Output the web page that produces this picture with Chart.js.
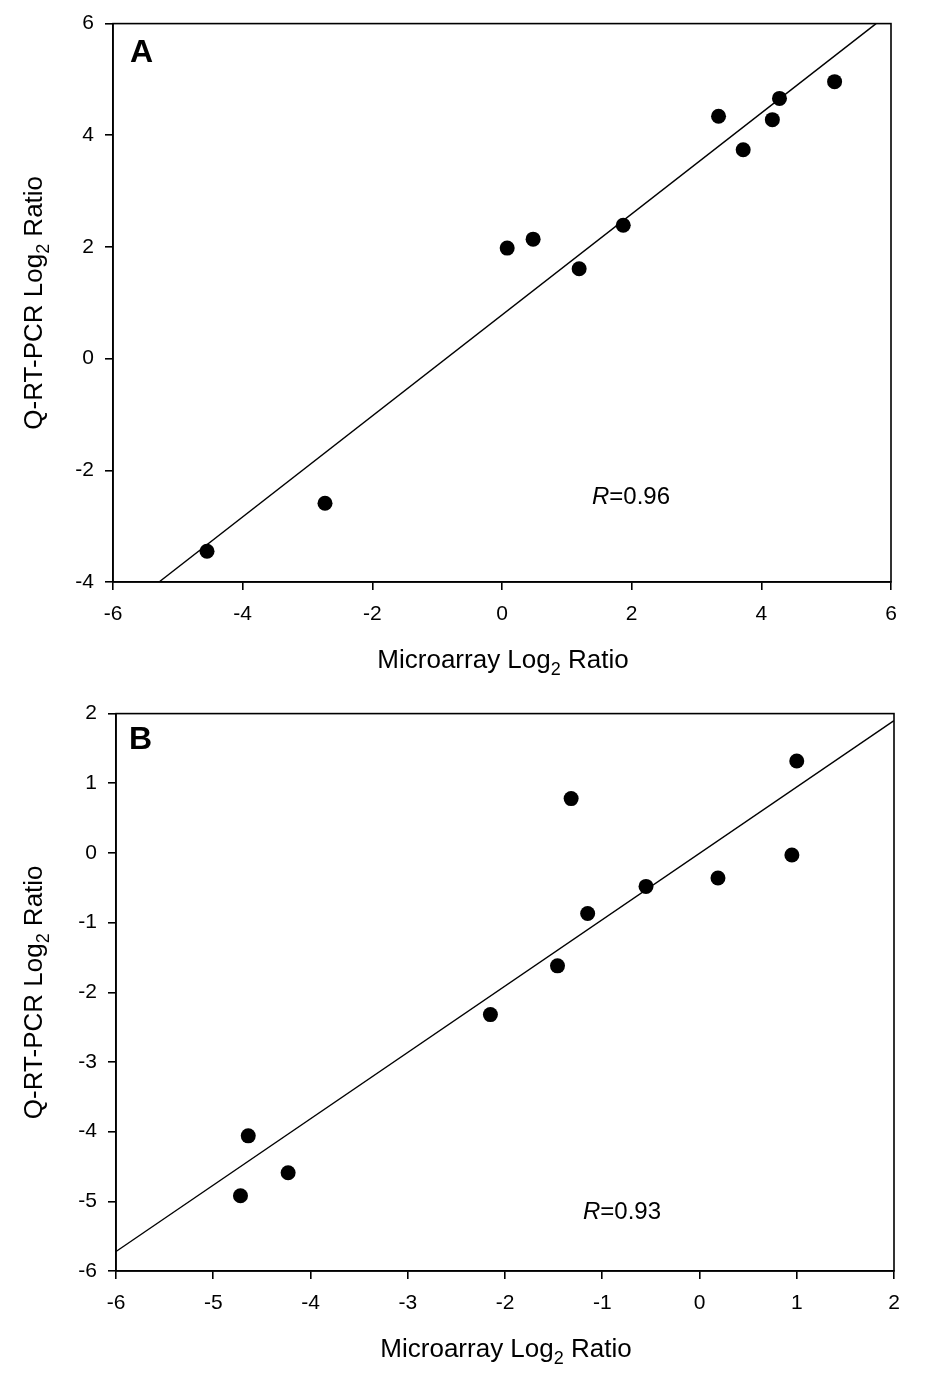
<!DOCTYPE html>
<html>
<head>
<meta charset="utf-8">
<script src="https://cdn.jsdelivr.net/npm/chart.js@4.4.0/dist/chart.umd.min.js"></script>
<style>
  html, body { margin: 0; padding: 0; background: #fff; }
  .panel { position: absolute; left: 0; }
</style>
</head>
<body>
<div class="panel" style="top:0"><canvas id="chartA" width="950" height="690"></canvas></div>
<div class="panel" style="top:690px"><canvas id="chartB" width="950" height="695"></canvas></div>
<script>
// Panel A
var aMicro = [-4.55, -2.73, 0.08, 0.48, 1.19, 1.87, 3.34, 3.72, 4.17, 4.28, 5.13];
var aQpcr  = [-3.45, -2.59, 1.98, 2.14, 1.61, 2.39, 4.34, 3.74, 4.28, 4.66, 4.96];
var aFitX = [-5.29, 5.77];
var aFitY = [-4, 6];
var aXTicks = [-6, -4, -2, 0, 2, 4, 6];
var aYTicks = [-4, -2, 0, 2, 4, 6];

// Panel B
var bMicro = [-4.72, -4.64, -4.23, -2.15, -1.46, -1.32, -1.15, -0.55, 0.19, 0.95, 1.0];
var bQpcr  = [-4.92, -4.06, -4.59, -2.32, -1.62, 0.78, -0.87, -0.48, -0.36, -0.03, 1.32];
var bFitX = [-6, 2];
var bFitY = [-5.72, 1.9];
var bXTicks = [-6, -5, -4, -3, -2, -1, 0, 1, 2];
var bYTicks = [-6, -5, -4, -3, -2, -1, 0, 1, 2];

var FONT = '"Liberation Sans", Arial, sans-serif';

function toPoints(xs, ys) {
    return xs.map(function (x, i) { return { x: x, y: ys[i] }; });
}

// draws "Log" + subscript 2, centred on (0,0)
function drawSubTitle(ctx, before, after) {
    var big = '26px ' + FONT, small = '18px ' + FONT;
    ctx.font = big;
    var w1 = ctx.measureText(before).width;
    var w3 = ctx.measureText(after).width;
    ctx.font = small;
    var w2 = ctx.measureText('2').width;
    var x = -(w1 + w2 + w3) / 2;
    ctx.textAlign = 'left';
    ctx.textBaseline = 'alphabetic';
    ctx.font = big;
    ctx.fillText(before, x, 0);
    ctx.font = small;
    ctx.fillText('2', x + w1, 7);
    ctx.font = big;
    ctx.fillText(after, x + w1 + w2, 0);
}

var decor = {
    id: 'decor',
    afterDraw: function (chart, args, opts) {
        var ctx = chart.ctx, a = chart.chartArea;
        ctx.save();
        ctx.strokeStyle = '#000';
        ctx.lineWidth = 1.6;
        ctx.strokeRect(a.left, a.top, a.right - a.left, a.bottom - a.top);

        ctx.fillStyle = '#000';
        ctx.font = 'bold 32px ' + FONT;
        ctx.textAlign = 'left';
        ctx.textBaseline = 'alphabetic';
        ctx.fillText(opts.letter, a.left + opts.letterDx, a.top + opts.letterDy);

        // R value
        var rx = a.left + opts.rDx, ry = a.top + opts.rDy;
        ctx.font = 'italic 24px ' + FONT;
        ctx.fillText('R', rx, ry);
        var rw = ctx.measureText('R').width;
        ctx.font = '24px ' + FONT;
        ctx.fillText('=' + opts.r, rx + rw, ry);

        // x title
        ctx.save();
        ctx.translate((a.left + a.right) / 2 + 1, a.bottom + opts.xTitleDy);
        drawSubTitle(ctx, 'Microarray Log', ' Ratio');
        ctx.restore();

        // y title
        ctx.save();
        ctx.translate(42, (a.top + a.bottom) / 2);
        ctx.rotate(-Math.PI / 2);
        drawSubTitle(ctx, 'Q-RT-PCR Log', ' Ratio');
        ctx.restore();
        ctx.restore();
    }
};

function makeChart(id, pts, fit, xr, yr, xTicks, yTicks, pad, yWidth, xHeight, deco) {
    return new Chart(document.getElementById(id), {
        data: {
            datasets: [{
                type: 'scatter',
                data: pts,
                pointRadius: 7.5,
                pointHoverRadius: 7.5,
                pointBackgroundColor: '#000',
                pointBorderWidth: 0
            }, {
                type: 'line',
                data: fit,
                borderColor: '#000',
                borderWidth: 1.4,
                pointRadius: 0,
                fill: false,
                tension: 0
            }]
        },
        options: {
            responsive: false,
            animation: false,
            devicePixelRatio: 1,
            layout: { padding: pad },
            plugins: {
                legend: { display: false },
                tooltip: { enabled: false },
                decor: deco
            },
            scales: {
                x: {
                    type: 'linear',
                    min: xr[0], max: xr[1],
                    afterBuildTicks: function (s) { s.ticks = xTicks.map(function (v) { return { value: v }; }); },
                    afterFit: function (s) { s.height = xHeight; },
                    grid: { drawOnChartArea: false, drawTicks: true, tickLength: 8, color: '#000', lineWidth: 1.6 },
                    border: { display: true, color: '#000', width: 1.6 },
                    ticks: { color: '#000', font: { family: FONT, size: 21 }, padding: 12, maxRotation: 0 }
                },
                y: {
                    type: 'linear',
                    min: yr[0], max: yr[1],
                    afterBuildTicks: function (s) { s.ticks = yTicks.map(function (v) { return { value: v }; }); },
                    afterFit: function (s) { s.width = yWidth; },
                    grid: { drawOnChartArea: false, drawTicks: true, tickLength: 8, color: '#000', lineWidth: 1.6 },
                    border: { display: true, color: '#000', width: 1.6 },
                    ticks: { color: '#000', font: { family: FONT, size: 21 }, padding: 11 }
                }
            }
        },
        plugins: [decor]
    });
}

makeChart('chartA', toPoints(aMicro, aQpcr), toPoints(aFitX, aFitY),
    [-6, 6], [-4, 6], aXTicks, aYTicks,
    { top: 22, right: 59, bottom: 0, left: 0 }, 113, 108,
    { letter: 'A', letterDx: 17, letterDy: 38, r: '0.96', rDx: 479, rDy: 480, xTitleDy: 86 });

makeChart('chartB', toPoints(bMicro, bQpcr), toPoints(bFitX, bFitY),
    [-6, 2], [-6, 2], bXTicks, bYTicks,
    { top: 20, right: 56, bottom: 0, left: 0 }, 116, 114,
    { letter: 'B', letterDx: 13, letterDy: 35, r: '0.93', rDx: 467, rDy: 505, xTitleDy: 86 });
</script>
</body>
</html>
